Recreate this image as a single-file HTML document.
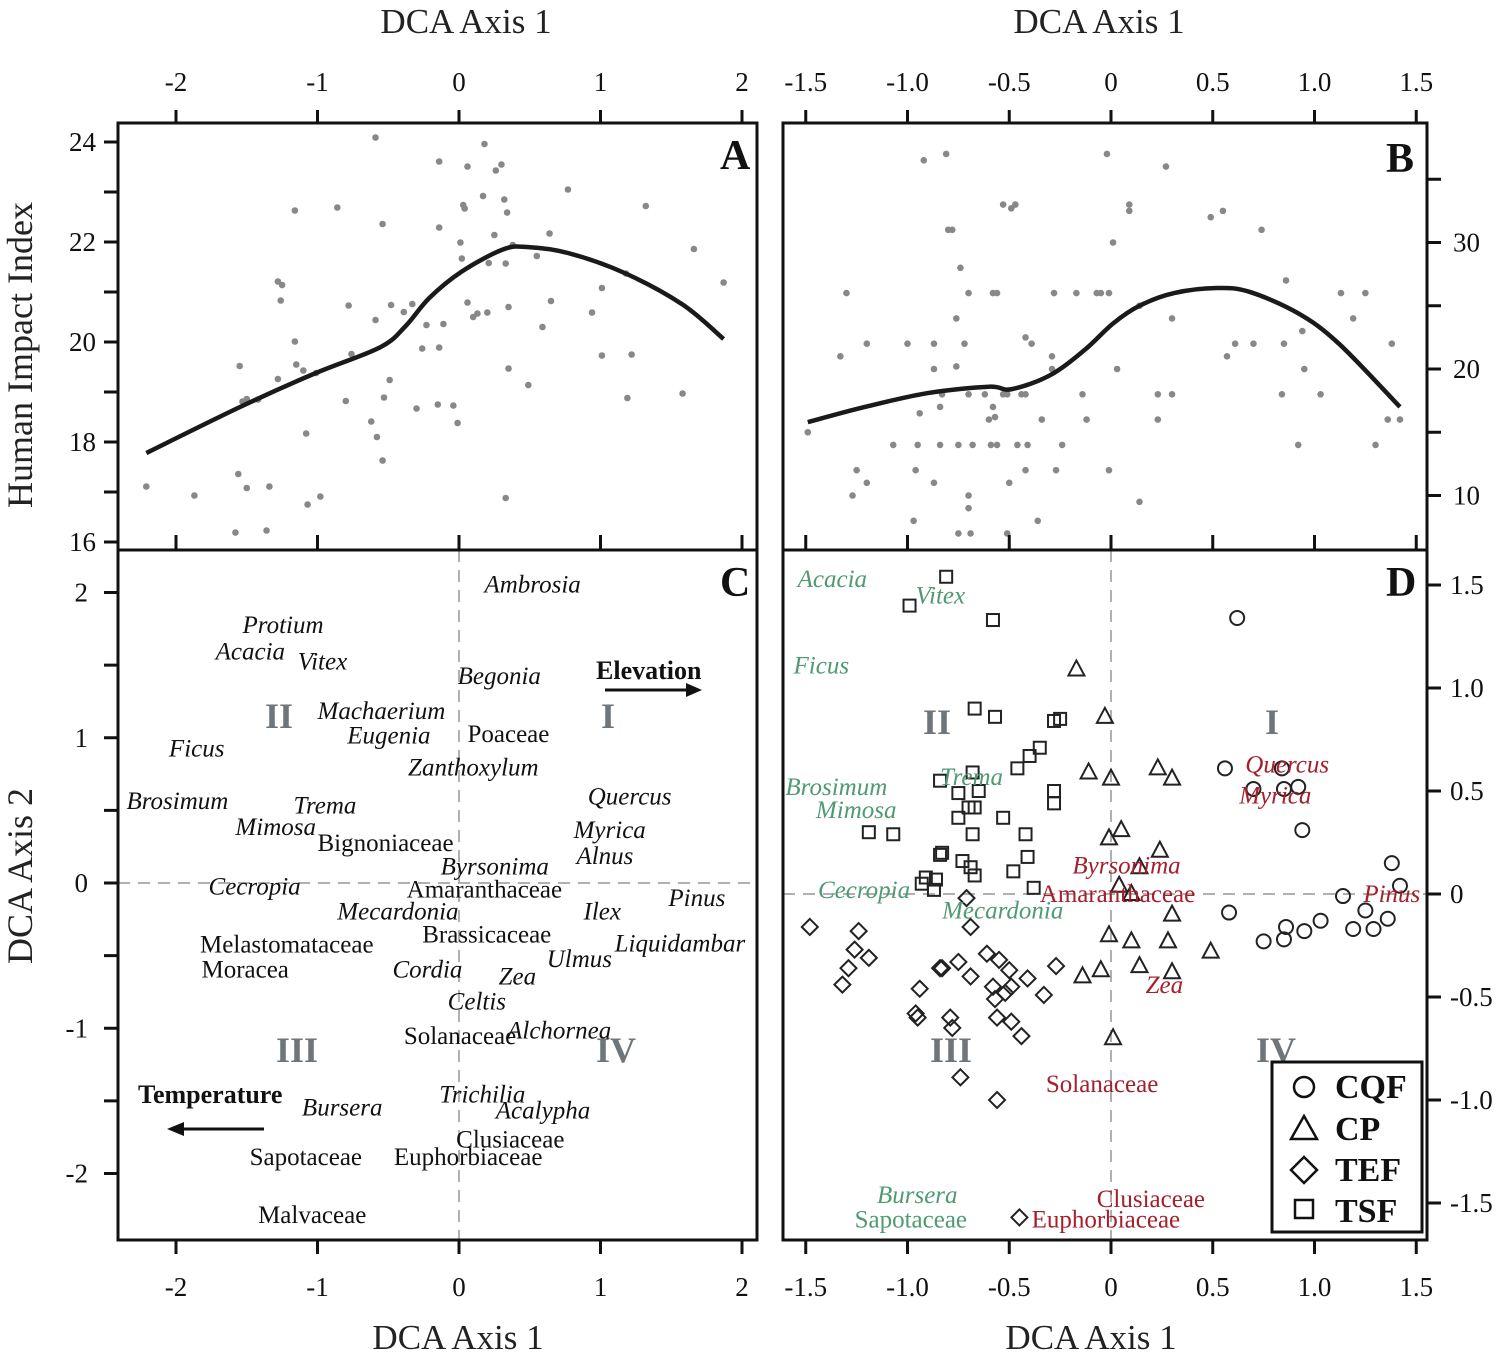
<!DOCTYPE html>
<html><head><meta charset="utf-8">
<style>
html,body{margin:0;padding:0;background:#fff;}
svg{display:block;font-family:"Liberation Serif",serif;}
</style></head>
<body>
<svg id="chart" width="1504" height="1354" viewBox="0 0 1504 1354" xmlns="http://www.w3.org/2000/svg"></svg>
<script>
// ---------- DATA ----------
const aX=[-0.59,0.18,-0.14,0.06,0.30,0.26,0.77,-1.16,-0.86,0.17,0.32,0.34,0.03,0.04,1.32,-0.54,-0.14,0.64,0.25,0.01,0.38,1.66,0.02,0.55,0.21,0.33,1.18,-1.28,-1.25,1.87,1.01,-1.26,-0.78,-0.48,-0.33,-0.39,0.06,0.35,0.65,-0.59,0.20,0.13,0.10,0.94,-0.23,-0.11,0.59,-1.16,-0.26,-0.14,-0.76,1.01,1.22,-1.55,-1.15,-1.10,-1.01,0.35,-1.28,-0.49,0.49,1.58,1.19,-1.53,-1.50,-1.42,-0.80,-0.53,-0.15,-0.04,-0.30,-0.01,-0.62,-1.08,-0.58,-0.54,-1.56,-2.21,-1.87,-1.50,-1.34,-1.07,-0.98,0.33,-1.58,-1.36];
const aY=[24.09,23.96,23.61,23.51,23.55,23.43,23.05,22.63,22.69,22.92,22.85,22.59,22.74,22.67,22.72,22.36,22.29,22.17,22.14,21.99,21.94,21.86,21.67,21.72,21.58,21.57,21.37,21.21,21.14,21.19,21.08,20.83,20.73,20.74,20.76,20.60,20.79,20.70,20.82,20.44,20.59,20.57,20.50,20.59,20.34,20.36,20.30,20.01,19.87,19.89,19.76,19.73,19.75,19.52,19.55,19.43,19.38,19.47,19.26,19.24,19.14,18.97,18.88,18.81,18.86,18.85,18.82,18.89,18.75,18.73,18.67,18.38,18.41,18.17,18.10,17.63,17.36,17.11,16.93,17.08,17.11,16.75,16.91,16.88,16.19,16.23];
const aCurveX=[-2.21,-1.54,-1.02,-0.56,-0.38,-0.21,0.02,0.31,0.48,0.77,1.17,1.58,1.87];
const aCurveY=[17.78,18.71,19.37,19.89,20.31,20.88,21.41,21.85,21.90,21.78,21.38,20.75,20.06];
const bX=[-0.92,-0.81,-0.02,0.27,-0.53,-0.49,-0.47,0.09,0.09,0.49,0.55,-0.80,-0.78,0.74,0.01,-0.74,0.86,-1.30,-0.70,-0.58,-0.56,-0.28,-0.17,-0.07,-0.05,-0.01,1.13,1.25,0.14,-0.76,0.30,1.19,-0.42,0.94,-1.20,-1.00,-0.87,-0.72,-0.39,0.61,0.70,0.85,1.38,-1.33,-0.29,0.57,-0.87,-0.76,-0.29,0.03,0.95,-0.83,-0.70,-0.62,-0.53,-0.51,-0.44,-0.42,-0.14,0.23,0.30,0.84,1.03,-0.84,-0.58,-0.94,-0.60,-0.57,-0.34,-0.12,0.23,1.36,1.42,-1.49,-1.07,-0.95,-0.84,-0.75,-0.68,-0.59,-0.56,-0.46,-0.41,-0.24,0.92,1.30,-1.25,-0.96,-0.42,-0.27,-0.01,-1.20,-0.87,-0.50,-1.27,-0.70,-0.70,0.14,-0.97,-0.36,-0.75,-0.69,-0.51];
const bY=[36.5,37,37,36,33,32.7,33,33,32.5,32,32.5,31,31,31,30,28,27,26,26,26,26,26,26,26,26,26,26,26,25,24,24,24,22.5,23,22,22,22,22,22,22,22,22,22,21,21,21,20,20.2,20,20,20,18,18,18,18,18,18,18,18,18,18,18,18,17,17,16.5,16,16.2,16,16,16,16,16,15,14,14,14,14,14,14,14,14,14,14,14,14,12,12,12,12,12,11,11,11,10,10,9,9.5,8,8,7,7,7];
const bCurveX=[-1.49,-1.21,-0.90,-0.60,-0.49,-0.30,-0.13,0.01,0.14,0.31,0.52,0.68,0.92,1.12,1.42];
const bCurveY=[15.8,17.0,18.1,18.6,18.4,19.5,21.5,23.6,25.0,26.0,26.4,26.1,24.4,22.0,17.0];
const cNames=["Ambrosia","Protium","Acacia","Vitex","Begonia","Machaerium","Eugenia","Poaceae","Ficus","Zanthoxylum","Brosimum","Trema","Quercus","Mimosa","Myrica","Bignoniaceae","Alnus","Byrsonima","Cecropia","Amaranthaceae","Pinus","Mecardonia","Ilex","Brassicaceae","Liquidambar","Melastomataceae","Moracea","Cordia","Ulmus","Zea","Celtis","Solanaceae","Alchornea","Trichilia","Bursera","Acalypha","Clusiaceae","Sapotaceae","Euphorbiaceae","Malvaceae"];
const cX=[0.18,-1.53,-1.72,-1.14,-0.01,-1.00,-0.79,0.06,-2.05,-0.36,-2.35,-1.17,0.91,-1.58,0.81,-1.00,0.83,-0.13,-1.77,-0.37,1.48,-0.86,0.88,-0.26,1.10,-1.83,-1.82,-0.47,0.62,0.28,-0.08,-0.39,0.34,-0.14,-1.11,0.26,-0.02,-1.48,-0.46,-1.42];
const cY=[2.00,1.72,1.54,1.47,1.37,1.13,0.96,0.97,0.87,0.74,0.51,0.48,0.54,0.33,0.31,0.22,0.13,0.06,-0.08,-0.10,-0.16,-0.25,-0.25,-0.41,-0.47,-0.48,-0.65,-0.65,-0.58,-0.70,-0.87,-1.11,-1.07,-1.51,-1.60,-1.62,-1.82,-1.94,-1.94,-2.34];
const cItalic=[1,1,1,1,1,1,1,0,1,1,1,1,1,1,1,0,1,1,1,0,1,1,1,0,1,0,0,1,1,1,1,0,1,1,1,1,0,0,0,0];
const sqX=[-0.81,-0.99,-0.58,-0.67,-0.57,-0.28,-0.25,-0.35,-0.40,-0.46,-0.68,-0.84,-0.65,-0.75,-0.28,-0.28,-0.70,-0.67,-0.75,-0.53,-1.19,-1.07,-0.68,-0.42,-0.83,-0.84,-0.41,-0.73,-0.69,-0.67,-0.48,-0.91,-0.93,-0.86,-0.87,-0.38];
const sqY=[1.54,1.40,1.33,0.90,0.86,0.84,0.85,0.71,0.67,0.61,0.59,0.55,0.50,0.49,0.50,0.44,0.42,0.42,0.37,0.37,0.30,0.29,0.29,0.29,0.20,0.19,0.18,0.16,0.13,0.09,0.11,0.08,0.05,0.07,0.02,0.03];
const trX=[-0.17,-0.03,-0.11,0.00,0.23,0.30,0.05,-0.01,0.24,0.14,0.04,0.10,0.30,-0.01,0.10,0.28,0.49,-0.05,0.14,0.30,-0.14,0.01];
const trY=[1.09,0.86,0.59,0.56,0.61,0.56,0.31,0.27,0.21,0.13,0.04,0.00,-0.10,-0.20,-0.23,-0.23,-0.28,-0.37,-0.35,-0.38,-0.40,-0.70];
const ciX=[0.62,0.56,0.84,0.70,0.85,0.92,0.94,1.38,1.42,1.14,0.58,1.25,1.36,1.03,0.86,0.95,1.19,1.29,0.85,0.75];
const ciY=[1.34,0.61,0.61,0.51,0.51,0.52,0.31,0.15,0.04,-0.01,-0.09,-0.08,-0.12,-0.13,-0.16,-0.18,-0.17,-0.17,-0.22,-0.23];
const diX=[-0.71,-1.48,-0.69,-1.24,-1.26,-1.19,-1.29,-1.32,-0.75,-0.84,-0.83,-0.61,-0.55,-0.50,-0.27,-0.69,-0.41,-0.94,-0.58,-0.49,-0.52,-0.57,-0.33,-0.96,-0.95,-0.79,-0.78,-0.56,-0.49,-0.44,-0.74,-0.56,-0.45];
const diY=[-0.02,-0.16,-0.16,-0.18,-0.27,-0.31,-0.36,-0.44,-0.33,-0.36,-0.36,-0.29,-0.32,-0.37,-0.35,-0.40,-0.41,-0.46,-0.45,-0.45,-0.48,-0.51,-0.49,-0.58,-0.60,-0.60,-0.65,-0.60,-0.62,-0.69,-0.89,-1.00,-1.57];
const dNames=["Acacia","Vitex","Ficus","Trema","Brosimum","Mimosa","Cecropia","Mecardonia","Bursera","Sapotaceae","Quercus","Myrica","Byrsonima","Amaranthaceae","Pinus","Zea","Solanaceae","Clusiaceae","Euphorbiaceae"];
const dX=[-1.54,-0.96,-1.56,-0.84,-1.60,-1.45,-1.44,-0.83,-1.15,-1.26,0.66,0.63,-0.19,-0.35,1.24,0.17,-0.32,-0.07,-0.39];
const dY=[1.49,1.41,1.07,0.53,0.48,0.37,-0.02,-0.12,-1.50,-1.62,0.59,0.44,0.10,-0.04,-0.04,-0.48,-0.96,-1.52,-1.62];
const dGroup=["g","g","g","g","g","g","g","g","g","g","r","r","r","r","r","r","r","r","r"];
const dItalic=[1,1,1,1,1,1,1,1,1,0,1,1,1,0,1,1,0,0,0];
const leftTicksX=[-2,-1,0,1,2];
const rightTicksX=["-1.5","-1.0","-0.5","0","0.5","1.0","1.5"];
const aTicksY=[24,22,20,18,16];
const cTicksY=[2,1,0,-1,-2];
const bTicksY=[30,20,10];
const dTicksY=["1.5","1.0","0.5","0","-0.5","-1.0","-1.5"];

// ---------- SCALES ----------
const ax=x=>459+141.5*x;
const ayA=y=>142+(24-y)*50;
const ayC=y=>883-145.25*y;
const bx=x=>1111+203.5*x;
const ayB=y=>369-(y-20)*12.65;
const ayD=y=>894-206*y;

const NS="http://www.w3.org/2000/svg";
const svg=document.getElementById('chart');
function mk(tag,attrs,parent){const e=document.createElementNS(NS,tag);for(const k in attrs)e.setAttribute(k,attrs[k]);(parent||svg).appendChild(e);return e;}
function txt(s,attrs,parent){const e=mk('text',attrs,parent);e.textContent=s;return e;}
function smooth(pts){let d=`M${pts[0][0]},${pts[0][1]}`;for(let i=0;i<pts.length-1;i++){const p0=pts[i-1]||pts[i],p1=pts[i],p2=pts[i+1],p3=pts[i+2]||p2;d+=` C${p1[0]+(p2[0]-p0[0])/6},${p1[1]+(p2[1]-p0[1])/6} ${p2[0]-(p3[0]-p1[0])/6},${p2[1]-(p3[1]-p1[1])/6} ${p2[0]},${p2[1]}`;}return d;}

let g=mk('g',{});


mk('line',{x1:ax(0),y1:550,x2:ax(0),y2:1240,stroke:'#b0b0b0','stroke-width':2,'stroke-dasharray':'12 8'},g);
mk('line',{x1:118,y1:ayC(0),x2:757,y2:ayC(0),stroke:'#b0b0b0','stroke-width':2,'stroke-dasharray':'12 8'},g);
mk('line',{x1:bx(0),y1:550,x2:bx(0),y2:1240,stroke:'#b0b0b0','stroke-width':2,'stroke-dasharray':'12 8'},g);
mk('line',{x1:783,y1:ayD(0),x2:1427,y2:ayD(0),stroke:'#b0b0b0','stroke-width':2,'stroke-dasharray':'12 8'},g);

g=mk('g',{});


for(let i=0;i<aX.length;i++){const c=mk('circle',{cx:ax(aX[i]),cy:ayA(aY[i]),r:3.3,fill:'#888'},g);

}
let p=mk('path',{d:smooth(aCurveX.map((x,i)=>[ax(x),ayA(aCurveY[i])])),fill:'none',stroke:'#1a1a1a','stroke-width':4.5});



g=mk('g',{});


for(let i=0;i<bX.length;i++){const c=mk('circle',{cx:bx(bX[i]),cy:ayB(bY[i]),r:3.3,fill:'#888'},g);

}
p=mk('path',{d:smooth(bCurveX.map((x,i)=>[bx(x),ayB(bCurveY[i])])),fill:'none',stroke:'#1a1a1a','stroke-width':4.5});



g=mk('g',{'font-size':25,fill:'#111'});


for(let i=0;i<cNames.length;i++){const t=txt(cNames[i],{x:ax(cX[i]),y:ayC(cY[i]),'font-style':cItalic[i]?'italic':'normal'},g);

}

const st={fill:'none',stroke:'#222','stroke-width':2};
g=mk('g',st);


for(let i=0;i<sqX.length;i++){const e=mk('rect',{x:bx(sqX[i])-6,y:ayD(sqY[i])-6,width:12,height:12},g);

}
for(let i=0;i<trX.length;i++){const x=bx(trX[i]),y=ayD(trY[i]);const e=mk('path',{d:`M${x},${y-9}L${x+8},${y+6}L${x-8},${y+6}Z`},g);

}
for(let i=0;i<ciX.length;i++){const e=mk('circle',{cx:bx(ciX[i]),cy:ayD(ciY[i]),r:7},g);

}
for(let i=0;i<diX.length;i++){const x=bx(diX[i]),y=ayD(diY[i]);const e=mk('path',{d:`M${x},${y-8}L${x+8},${y}L${x},${y+8}L${x-8},${y}Z`},g);

}
g=mk('g',{'font-size':25});


for(let i=0;i<dNames.length;i++){const t=txt(dNames[i],{x:bx(dX[i]),y:ayD(dY[i]),fill:dGroup[i]==='g'?'#4f9a72':'#a3202c','font-style':dItalic[i]?'italic':'normal'},g);

}

g=mk('g',{'font-size':36,'font-weight':'bold',fill:'#6e757b','text-anchor':'middle'});


[["II",279,728],["I",608,728],["III",297,1062],["IV",616,1062],["II",937,734],["I",1272,734],["III",951,1062],["IV",1276,1062]].forEach(q=>{const t=txt(q[0],{x:q[1],y:q[2]},g);

});

g=mk('g',{});


txt("Elevation",{x:596,y:679,'font-size':26,'font-weight':'bold',fill:'#111'},g);
mk('line',{x1:605,y1:690,x2:688,y2:690,stroke:'#111','stroke-width':3},g);
mk('path',{d:'M702,690 L686,683 L686,697 Z',fill:'#111'},g);
txt("Temperature",{x:138,y:1103,'font-size':26,'font-weight':'bold',fill:'#111'},g);
mk('line',{x1:264,y1:1129,x2:182,y2:1129,stroke:'#111','stroke-width':3},g);
mk('path',{d:'M167,1129 L184,1122 L184,1136 Z',fill:'#111'},g);

g=mk('g',{fill:'none',stroke:'#111','stroke-width':3});


mk('rect',{x:118,y:123,width:639,height:1117},g);
mk('line',{x1:118,y1:550,x2:757,y2:550},g);
mk('rect',{x:783,y:123,width:644,height:1117},g);
mk('line',{x1:783,y1:550,x2:1427,y2:550},g);

g=mk('g',{'font-size':42,'font-weight':'bold',fill:'#111'});


[["A",720,169],["B",1386,172],["C",720,596],["D",1386,596]].forEach(l=>txt(l[0],{x:l[1],y:l[2]},g));

g=mk('g',{stroke:'#111','stroke-width':3});


leftTicksX.forEach(v=>{const x=ax(v);mk('line',{x1:x,y1:110,x2:x,y2:123},g);mk('line',{x1:x,y1:535,x2:x,y2:550},g);mk('line',{x1:x,y1:1240,x2:x,y2:1254},g);});
rightTicksX.forEach(s=>{const x=bx(parseFloat(s));mk('line',{x1:x,y1:110,x2:x,y2:123},g);mk('line',{x1:x,y1:535,x2:x,y2:550},g);mk('line',{x1:x,y1:1240,x2:x,y2:1254},g);});
for(let v=16;v<=24;v++){const y=ayA(v);mk('line',{x1:104,y1:y,x2:118,y2:y},g);}
for(let v=-2.5;v<=2.01;v+=0.5){const y=ayC(v);if(y>560&&y<1235)mk('line',{x1:104,y1:y,x2:118,y2:y},g);}
for(let v=10;v<=35;v+=5){const y=ayB(v);mk('line',{x1:1427,y1:y,x2:1441,y2:y},g);}
dTicksY.forEach(s=>{const y=ayD(parseFloat(s));mk('line',{x1:1427,y1:y,x2:1441,y2:y},g);});

g=mk('g',{'font-size':27,fill:'#111'});


leftTicksX.forEach(v=>{txt(String(v),{x:ax(v),y:91,'text-anchor':'middle'},g);txt(String(v),{x:ax(v),y:1296,'text-anchor':'middle'},g);});
rightTicksX.forEach(s=>{const v=parseFloat(s);txt(s,{x:bx(v),y:91,'text-anchor':'middle'},g);txt(s,{x:bx(v),y:1296,'text-anchor':'middle'},g);});
aTicksY.forEach(v=>txt(String(v),{x:96,y:ayA(v)+9,'text-anchor':'end'},g));
cTicksY.forEach(v=>txt(String(v),{x:88,y:ayC(v)+9,'text-anchor':'end'},g));
bTicksY.forEach(v=>txt(String(v),{x:1453,y:ayB(v)+9},g));
dTicksY.forEach(s=>txt(s,{x:1450,y:ayD(parseFloat(s))+9},g));

g=mk('g',{'font-size':35,fill:'#222'});


txt("DCA Axis 1",{x:466,y:33,'text-anchor':'middle'},g);
txt("DCA Axis 1",{x:1099,y:33,'text-anchor':'middle'},g);
txt("DCA Axis 1",{x:458,y:1349,'text-anchor':'middle'},g);
txt("DCA Axis 1",{x:1091,y:1349,'text-anchor':'middle'},g);
txt("Human Impact Index",{x:0,y:0,'text-anchor':'middle','font-size':36,transform:'translate(32,355) rotate(-90)'},g);
txt("DCA Axis 2",{x:0,y:0,'text-anchor':'middle','font-size':36,transform:'translate(32,876) rotate(-90)'},g);

g=mk('g',{});


mk('rect',{x:1272,y:1062,width:150,height:170,fill:'#fff',stroke:'#111','stroke-width':3},g);
const lg={fill:'none',stroke:'#111','stroke-width':2.5};
mk('circle',{cx:1304,cy:1087,r:10,...lg},g);
mk('path',{d:'M1304,1116 L1317,1139 L1291,1139 Z',...lg},g);
mk('path',{d:'M1304,1157 L1317,1170 L1304,1183 L1291,1170 Z',...lg},g);
mk('rect',{x:1295,y:1200,width:18,height:18,...lg},g);
const lt={'font-size':34,'font-weight':'bold',fill:'#111'};
[["CQF",1098],["CP",1140],["TEF",1181],["TSF",1222]].forEach(l=>{const t=txt(l[0],{x:1335,y:l[1],...lt},g);

});
</script>
</body></html>
